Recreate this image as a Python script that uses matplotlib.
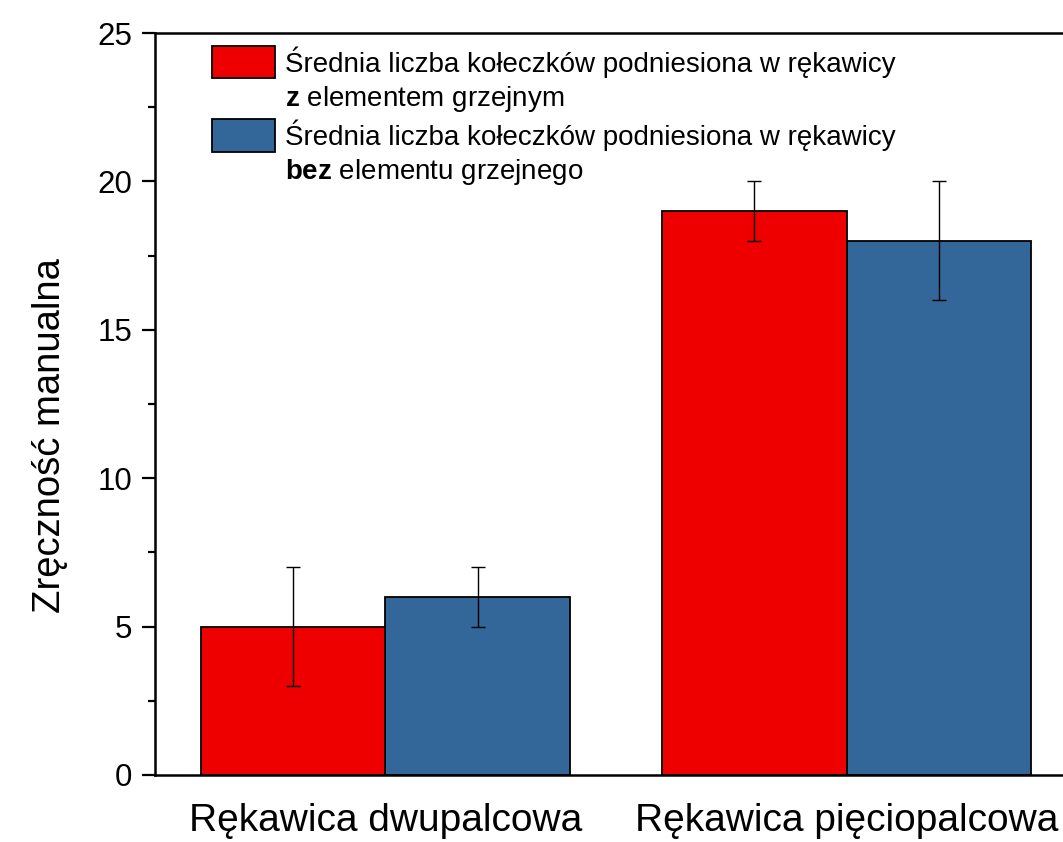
import numpy as np
import matplotlib
matplotlib.use("Agg")
import matplotlib.pyplot as plt
from matplotlib.patches import Patch, Rectangle
from matplotlib.legend_handler import HandlerPatch

# data
categories = ["Rękawica dwupalcowa", "Rękawica pięciopalcowa"]
with_heater = [5, 19]
with_heater_err = [2, 1]
without_heater = [6, 18]
without_heater_err = [1, 2]

label_line1 = "Średnia liczba kołeczków podniesiona w rękawicy"
label_with = r"$\mathbf{z}$ elementem grzejnym"
label_without = r"$\mathbf{bez}$ elementu grzejnego"

RED = "#EE0000"
BLUE = "#336699"

plt.rcParams["font.family"] = ["Liberation Sans", "DejaVu Sans"]
plt.rcParams["mathtext.fontset"] = "custom"
plt.rcParams["mathtext.rm"] = "Liberation Sans"
plt.rcParams["mathtext.bf"] = "Liberation Sans:bold"


def tall_box(legend, orig_handle, xdescent, ydescent, width, height, fontsize):
    # legend boxes a bit taller than matplotlib's default
    return Rectangle((-xdescent, -ydescent - 2.2), width, height + 4.4)


fig = plt.figure(figsize=(10.63, 8.42), dpi=100)
ax = fig.add_axes([155 / 1063, 0.0796, 922 / 1063, 0.8812])

x = np.arange(1, len(categories) + 1)
w = 0.4
ax.bar(x - w / 2, with_heater, w, color=RED, edgecolor="black", linewidth=1.3, zorder=2)
ax.bar(x + w / 2, without_heater, w, color=BLUE, edgecolor="black", linewidth=1.3, zorder=2)
ax.errorbar(x - w / 2, with_heater, yerr=with_heater_err, fmt="none", ecolor="black",
            elinewidth=1.0, capsize=5, capthick=1.0, zorder=3)
ax.errorbar(x + w / 2, without_heater, yerr=without_heater_err, fmt="none", ecolor="black",
            elinewidth=1.0, capsize=5, capthick=1.0, zorder=3)

ax.set_xlim(0.5, 2.5)
ax.set_ylim(0, 25)
ax.set_xticks(x)
ax.set_xticklabels(categories, fontsize=28)
ax.set_yticks([0, 5, 10, 15, 20, 25])
ax.set_yticks(np.arange(2.5, 25, 5), minor=True)
ax.tick_params(axis="y", which="major", direction="out", length=9.5, width=1.6,
               labelsize=22.5, pad=7)
ax.tick_params(axis="y", which="minor", direction="out", length=5, width=1.6)
ax.tick_params(axis="x", which="both", length=0, pad=20)
ax.set_ylabel("Zręczność manualna", fontsize=27.5)
ax.yaxis.set_label_coords(-0.094, 0.457)

for s in ["left", "bottom", "top", "right"]:
    ax.spines[s].set_linewidth(1.8)

handles = [Patch(facecolor=RED, edgecolor="black", linewidth=1.3),
           Patch(facecolor="none", edgecolor="none"),
           Patch(facecolor=BLUE, edgecolor="black", linewidth=1.3),
           Patch(facecolor="none", edgecolor="none")]
labels = [label_line1, label_with, label_line1, label_without]
ax.legend(handles, labels, loc="upper left", bbox_to_anchor=(212 / 1063, 1 - 46 / 842),
          bbox_transform=fig.transFigure, frameon=False, fontsize=20,
          handlelength=2.27, handleheight=1.1, handletextpad=0.36,
          labelspacing=0.2, borderpad=0, borderaxespad=0,
          handler_map={Patch: HandlerPatch(patch_func=tall_box)})

fig.savefig("out.png", dpi=100)
